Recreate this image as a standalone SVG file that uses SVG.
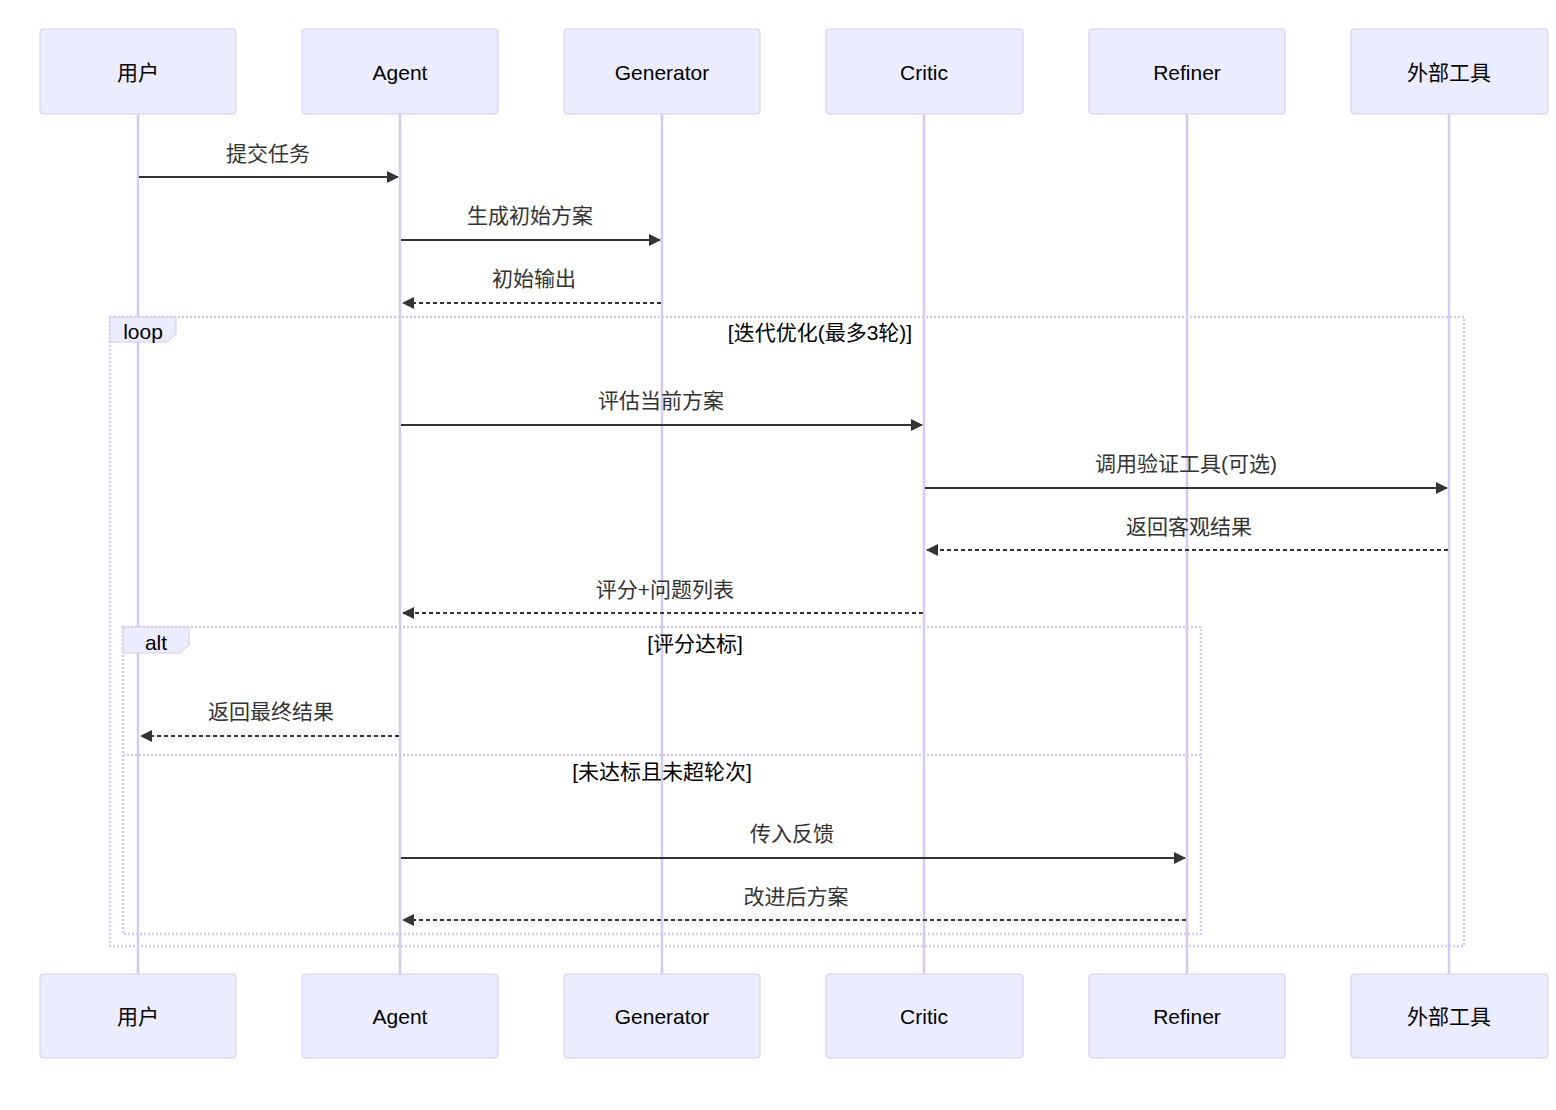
<svg xmlns="http://www.w3.org/2000/svg" width="1556" height="1110" viewBox="0 0 1556 1110">
<style>
text{font-family:"Liberation Sans","Noto Sans CJK SC",sans-serif;font-size:21px;fill:#333}
.actor rect{fill:#ECECFF;stroke:#d6caf2;stroke-width:1}
.actor text{fill:#000;text-anchor:middle;dominant-baseline:central}
.life{stroke:#d6caf2;stroke-width:2.5}
.msg{stroke:#333;stroke-width:2;fill:none;marker-end:url(#arrow)}
.dash{stroke-dasharray:4,3}
.mlabel{text-anchor:middle;dominant-baseline:central}
.frame{fill:none;stroke:#d6caf2;stroke-width:2.5;stroke-dasharray:2,2}
.flabel{fill:#ECECFF;stroke:#d6caf2;stroke-width:1}
.ftext{fill:#000;text-anchor:middle;dominant-baseline:central}
.cond{fill:#000;text-anchor:middle;dominant-baseline:central}
</style>
<defs>
<marker id="arrow" viewBox="0 0 12 12" refX="11" refY="6" markerWidth="12" markerHeight="12" markerUnits="userSpaceOnUse" orient="auto">
<path d="M0,0 L12,6 L0,12 z" fill="#333"/>
</marker>
</defs>
<rect width="1556" height="1110" fill="#fff"/>
<g id="lifelines">
<line class="life" x1="138" y1="114" x2="138" y2="974"/>
<line class="life" x1="400" y1="114" x2="400" y2="974"/>
<line class="life" x1="662" y1="114" x2="662" y2="974"/>
<line class="life" x1="924" y1="114" x2="924" y2="974"/>
<line class="life" x1="1187" y1="114" x2="1187" y2="974"/>
<line class="life" x1="1449" y1="114" x2="1449" y2="974"/>
</g>
<g id="actor-user-top" class="actor"><rect x="40" y="29" width="196" height="85" rx="3"/><text x="138" y="72">用户</text></g>
<g id="actor-agent-top" class="actor"><rect x="302" y="29" width="196" height="85" rx="3"/><text x="400" y="72">Agent</text></g>
<g id="actor-generator-top" class="actor"><rect x="564" y="29" width="196" height="85" rx="3"/><text x="662" y="72">Generator</text></g>
<g id="actor-critic-top" class="actor"><rect x="826" y="29" width="197" height="85" rx="3"/><text x="924" y="72">Critic</text></g>
<g id="actor-refiner-top" class="actor"><rect x="1089" y="29" width="196" height="85" rx="3"/><text x="1187" y="72">Refiner</text></g>
<g id="actor-tool-top" class="actor"><rect x="1351" y="29" width="197" height="85" rx="3"/><text x="1449" y="72">外部工具</text></g>
<g id="actor-user-bottom" class="actor"><rect x="40" y="974" width="196" height="84" rx="3"/><text x="138" y="1016">用户</text></g>
<g id="actor-agent-bottom" class="actor"><rect x="302" y="974" width="196" height="84" rx="3"/><text x="400" y="1016">Agent</text></g>
<g id="actor-generator-bottom" class="actor"><rect x="564" y="974" width="196" height="84" rx="3"/><text x="662" y="1016">Generator</text></g>
<g id="actor-critic-bottom" class="actor"><rect x="826" y="974" width="197" height="84" rx="3"/><text x="924" y="1016">Critic</text></g>
<g id="actor-refiner-bottom" class="actor"><rect x="1089" y="974" width="196" height="84" rx="3"/><text x="1187" y="1016">Refiner</text></g>
<g id="actor-tool-bottom" class="actor"><rect x="1351" y="974" width="197" height="84" rx="3"/><text x="1449" y="1016">外部工具</text></g>
<g id="loop-frame">
<rect class="frame" x="110" y="317" width="1354" height="629"/>
<polygon class="flabel" points="110,317 176,317 176,334 167.6,342 110,342"/>
<text class="ftext" x="143" y="331">loop</text>
<text class="cond" x="820" y="332">[迭代优化(最多3轮)]</text>
</g>
<g id="alt-frame">
<rect class="frame" x="123" y="627" width="1078" height="307"/>
<polygon class="flabel" points="123,627 189,627 189,645 180.6,653 123,653"/>
<text class="ftext" x="156" y="642">alt</text>
<text class="cond" x="695" y="643">[评分达标]</text>
<line class="frame" x1="123" y1="755" x2="1201" y2="755"/>
<text class="cond" x="662" y="771">[未达标且未超轮次]</text>
</g>
<g id="connectors">
<line class="msg" x1="139" y1="177" x2="398" y2="177"/>
<text class="mlabel" x="268" y="153">提交任务</text>
<line class="msg" x1="401" y1="240" x2="660" y2="240"/>
<text class="mlabel" x="530" y="215">生成初始方案</text>
<line class="msg dash" x1="661" y1="303" x2="403" y2="303"/>
<text class="mlabel" x="534" y="278">初始输出</text>
<line class="msg" x1="401" y1="425" x2="922" y2="425"/>
<text class="mlabel" x="661" y="400">评估当前方案</text>
<line class="msg" x1="925" y1="488" x2="1447" y2="488"/>
<text class="mlabel" x="1186" y="463">调用验证工具(可选)</text>
<line class="msg dash" x1="1448" y1="550" x2="927" y2="550"/>
<text class="mlabel" x="1189" y="526">返回客观结果</text>
<line class="msg dash" x1="923" y1="613" x2="403" y2="613"/>
<text class="mlabel" x="665" y="589">评分+问题列表</text>
<line class="msg dash" x1="399" y1="736" x2="141" y2="736"/>
<text class="mlabel" x="271" y="711">返回最终结果</text>
<line class="msg" x1="401" y1="858" x2="1185" y2="858"/>
<text class="mlabel" x="792" y="833">传入反馈</text>
<line class="msg dash" x1="1186" y1="920" x2="403" y2="920"/>
<text class="mlabel" x="796" y="896">改进后方案</text>
</g>
</svg>
